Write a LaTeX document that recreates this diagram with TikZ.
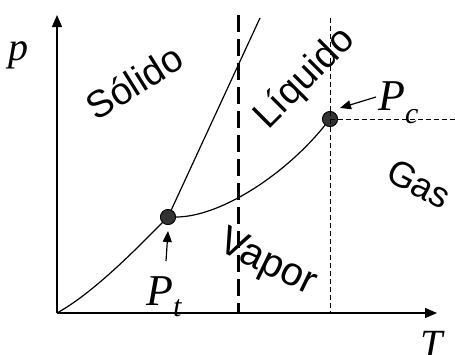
\documentclass[tikz,border=0pt]{standalone}
\usepackage{fontspec}
\setmainfont{Liberation Serif}
\newfontfamily\arialf{Liberation Sans}
\newfontfamily\timesf{Liberation Serif}
\usetikzlibrary{arrows.meta}
\begin{document}
\begin{tikzpicture}[x=1pt,y=-1pt,
  axis/.style={line width=1.4pt,-{Triangle[length=12pt,width=10pt]}},
  curve/.style={line width=1.2pt},
  pdot/.style={circle,draw=black,line width=0.8pt,fill=black!80,minimum size=15pt,inner sep=0pt},
  thickdash/.style={line width=3pt,dash pattern=on 17pt off 7pt},
  thindash/.style={line width=1pt,dash pattern=on 5pt off 3pt},
  pointer/.style={line width=1.2pt,-{Triangle[length=11pt,width=9pt]}},
  phase/.style={inner sep=0pt},
  sym/.style={inner sep=0pt,anchor=base west}]
\useasboundingbox (0,0) rectangle (455,354);
% axes
\coordinate (O) at (57,313);
\coordinate (ytop) at (57,15);
\coordinate (xend) at (437,313);
\draw[axis] (O) -- (ytop);
\draw[axis] (O) -- (xend);
% points
\node[pdot] (Pt) at (168,217) {};
\node[pdot] (Pc) at (330,119) {};
% dashed lines
\coordinate (d1top) at (238,15);
\coordinate (d1bot) at (238,313);
\coordinate (d2top) at (330,18);
\coordinate (d2bot) at (330,313);
\coordinate (hend) at (455,119);
\draw[thickdash] (d1top) -- (d1bot);
\draw[thindash] (d2top) -- (Pc.center);
\draw[thindash] (Pc.center) -- (d2bot);
\draw[thindash] (Pc.center) -- (hend);
% curves
\coordinate (mtop) at (260,18);
\draw[curve] (O) .. controls (95,292) and (140,245) .. (Pt);
\draw[curve] (Pt) -- (mtop);
\draw[curve] (Pt) .. controls (220,217) and (285,175) .. (Pc);
% redraw dots on top
\node[pdot] at (Pt) {};
\node[pdot] at (Pc) {};
\draw[thindash] (Pc.center) -- (Pc.east);
\draw[thindash] (Pc.north) -- (Pc.south);
% axis labels
\node[sym] (plab) at (8,60) {\timesf\itshape\fontsize{40}{40}\selectfont p};
\node[sym] (Tlab) at (420,357) {\timesf\itshape\fontsize{40}{40}\selectfont T};
% point labels
\node[sym] (Ptlab) at (146,305) {\timesf\itshape\fontsize{44}{44}\selectfont P\raisebox{-11pt}{\fontsize{30}{30}\selectfont t}};
\node[sym] (Pclab) at (378,110) {\timesf\itshape\fontsize{44}{44}\selectfont P\raisebox{-13pt}{\fontsize{30}{30}\selectfont c}};
\coordinate (a1s) at (166,261);
\coordinate (a1e) at (168,231);
\coordinate (a2s) at (376,97);
\coordinate (a2e) at (340,108);
\draw[pointer] (a1s) -- (a1e);
\draw[pointer] (a2s) -- (a2e);
% phase labels
\node[phase,rotate=32] (sol) at (134,82) {\arialf\fontsize{38}{38}\selectfont Sólido};
\node[phase,rotate=45] (liq) at (305,79) {\arialf\fontsize{38}{38}\selectfont Líquido};
\node[phase,rotate=-28] (gas) at (419,184) {\arialf\fontsize{36}{36}\selectfont Gas};
\node[phase,rotate=-26] (vap) at (267,264) {\arialf\fontsize{40}{40}\selectfont Vapor};
\end{tikzpicture}
\end{document}
